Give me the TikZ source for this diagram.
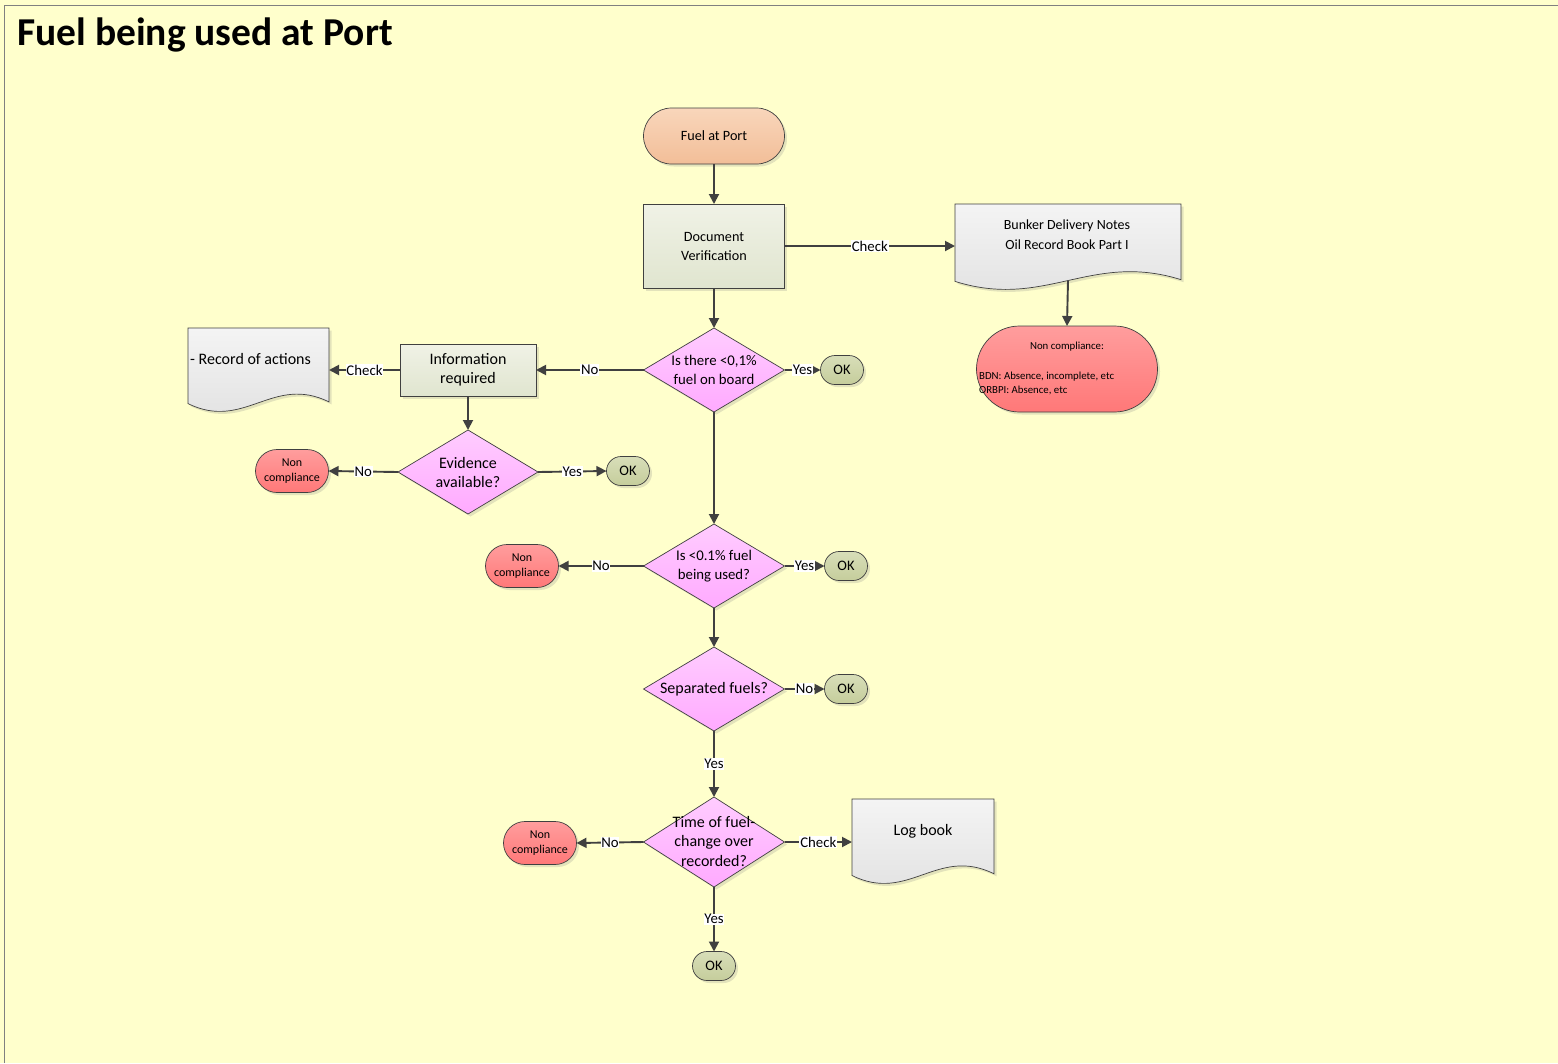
\documentclass[tikz,border=0pt]{standalone}
\usepackage{fontspec}
\setmainfont{Carlito}
\usetikzlibrary{shapes.geometric,shapes.misc,arrows.meta,shadows}
\definecolor{bgy}{HTML}{FFFFCC}
\definecolor{edgec}{HTML}{404040}
\definecolor{peachT}{HTML}{F9D6BB}
\definecolor{peachB}{HTML}{F2BE98}
\definecolor{procT}{HTML}{F0F2E6}
\definecolor{procB}{HTML}{E0E5CF}
\definecolor{diaT}{HTML}{FFCCFF}
\definecolor{diaB}{HTML}{FFAAFF}
\definecolor{ncT}{HTML}{FF9D9D}
\definecolor{ncB}{HTML}{FF7878}
\definecolor{okT}{HTML}{D8DEB8}
\definecolor{okB}{HTML}{C5CD9C}
\definecolor{docT}{HTML}{F4F4F4}
\definecolor{docB}{HTML}{E0E0E0}
\newcommand\fs[2]{\fontsize{#1}{#2}\selectfont}
% name, x1, y1, w, h
\newcommand\mydoc[5]{%
  \path[docfill] (#2,#3) -- ({#2+#4},#3) -- ({#2+#4},{#3+0.88*#5})
    .. controls ({#2+0.6*#4},{#3+0.55*#5}) and ({#2+0.4*#4},{#3+1.23*#5}) .. (#2,{#3+0.9*#5}) -- cycle;
  \node[docnode, anchor=north west, minimum width=#4pt, minimum height={0.89*#5pt}] (#1) at (#2,#3) {};
}
\begin{document}
\begin{tikzpicture}[x=1pt,y=-1pt,
  shd/.style={drop shadow={shadow xshift=2.5pt,shadow yshift=-2.5pt,opacity=.22}},
  shp/.style={draw=edgec, line width=0.7pt, shd},
  procbox/.style={shp, rectangle, top color=procT, bottom color=procB, inner sep=0pt, outer sep=0pt, align=center},
  startnode/.style={shp, rounded rectangle, top color=peachT, bottom color=peachB, inner sep=0pt, outer sep=0pt, font=\fs{14.2}{17}},
  dia/.style={shp, diamond, minimum width=141pt, minimum height=84pt, inner sep=0pt, outer sep=0pt, top color=diaT, bottom color=diaB},
  diatext/.style={align=center, inner sep=0pt},
  okn/.style={shp, rounded rectangle, minimum width=43pt, minimum height=29pt, inner sep=0pt, outer sep=0pt, top color=okT, bottom color=okB, font=\fs{14.5}{17}},
  ncs/.style={shp, rounded rectangle, minimum width=73pt, minimum height=43pt, inner sep=0pt, outer sep=0pt, top color=ncT, bottom color=ncB, align=center, font=\fs{12}{15}},
  docfill/.style={draw=edgec, line width=0.7pt, top color=docT, bottom color=docB, shd},
  docnode/.style={rectangle, draw=none, fill=none, inner sep=0pt, outer sep=0pt},
  doctext/.style={align=center, inner sep=0pt},
  conn/.style={draw=edgec, line width=1.9pt, -{Triangle[length=10pt,width=10pt]}},
  elab/.style={fill=white, inner sep=0.8pt, font=\fs{14.8}{17}}
]
\useasboundingbox (0,0) rectangle (1558,1063);
\fill[bgy] (0,0) rectangle (1558,1063);
\draw[gray, line width=1pt] (4,1063) -- (4,5) -- (1558,5);

\node[anchor=base west, inner sep=0pt, font=\bfseries\fs{39.5}{42}] (title) at (17,45) {Fuel being used at Port};

% central column
\node[startnode, minimum width=141pt, minimum height=56pt] (fuel) at (714,136) {Fuel at Port};
\node[procbox, minimum width=141pt, minimum height=84pt, font=\fs{14.2}{19}] (docver) at (714,246) {Document\\Verification};

\node[dia] (d1) at (714,370) {};
\node[diatext, font=\fs{14.8}{19}] (d1t) at (714,370) {Is there <0,1\%\\fuel on board};
\node[okn] (ok1) at (842,370) {OK};

\node[dia] (d3) at (714,566) {};
\node[diatext, font=\fs{14.8}{19}] (d3t) at (714,566) {Is <0.1\% fuel\\being used?};
\node[okn] (ok3) at (846,566) {OK};
\node[ncs] (nc3) at (522,566) {Non\\compliance};

\node[dia] (d4) at (714,689) {};
\node[diatext, font=\fs{16}{19}] (d4t) at (714,689) {Separated fuels?};
\node[okn] (ok4) at (846,689) {OK};

\node[dia, minimum height=90pt] (d5) at (714,842) {};
\node[diatext, font=\fs{16}{19.5}] (d5t) at (714,841) {Time of fuel-\\change over\\recorded?};
\node[ncs] (nc4) at (540,843) {Non\\compliance};
\node[okn] (ok5) at (714,966) {OK};

% right documents
\mydoc{bunker}{955}{204}{226}{86}
\node[doctext, font=\fs{14}{20}] (bunkert) at (1067,235) {Bunker Delivery Notes\\Oil Record Book Part I};
\node[shp, rounded rectangle, minimum width=181pt, minimum height=86pt, inner sep=0pt, outer sep=0pt, top color=ncT, bottom color=ncB] (nc1) at (1067,369) {};
\node[inner sep=0pt, font=\fs{10.8}{13}] (nc1a) at (1067,347) {Non compliance:};
\node[anchor=west, align=left, inner sep=0pt, font=\fs{10.8}{14}] (nc1b) at (979,383) {BDN: Absence, incomplete, etc\\ORBPI: Absence, etc};

\mydoc{logbook}{852}{799}{142}{85}
\node[doctext, font=\fs{16}{19}] (logbookt) at (923,831) {Log book};

% left branch
\node[procbox, minimum width=136pt, minimum height=52pt, font=\fs{16}{19}] (info) at (468,370) {Information\\required};
\mydoc{record}{188}{328}{141}{84}
\node[anchor=west, inner sep=0pt, font=\fs{16}{19}] (recordt) at (190,359) {- Record of actions};
\node[dia, minimum width=140pt] (d2) at (468,472) {};
\node[diatext, font=\fs{16}{19}] (d2t) at (468,472) {Evidence\\available?};
\node[ncs] (nc2) at (292,471) {Non\\compliance};
\node[okn] (ok2) at (628,471) {OK};

% connectors
\draw[conn] (fuel) -- (docver);
\draw[conn] (docver.east) -- node[elab] {Check} (docver.east -| bunker.west);
\draw[conn] (docver) -- (d1);
\draw[conn] (bunker.south) -- (nc1.north);
\draw[conn] (d1.east) -- node[elab] {Yes} (ok1.west);
\draw[conn] (d1.west) -- node[elab] {No} (info.east);
\draw[conn] (info.west) -- node[elab] {Check} (info.west -| record.east);
\draw[conn] (info) -- (d2);
\draw[conn] (d2.west) -- node[elab] {No} (nc2.east);
\draw[conn] (d2.east) -- node[elab] {Yes} (ok2.west);
\draw[conn] (d1.south) -- (d3.north);
\draw[conn] (d3.west) -- node[elab] {No} (nc3.east);
\draw[conn] (d3.east) -- node[elab] {Yes} (ok3.west);
\draw[conn] (d3.south) -- (d4.north);
\draw[conn] (d4.east) -- node[elab] {No} (ok4.west);
\draw[conn] (d4.south) -- node[elab] {Yes} (d5.north);
\draw[conn] (d5.west) -- node[elab] {No} (nc4.east);
\draw[conn] (d5.east) -- node[elab] {Check} (d5.east -| logbook.west);
\draw[conn] (d5.south) -- node[elab] {Yes} (ok5.north);
\end{tikzpicture}
\end{document}
